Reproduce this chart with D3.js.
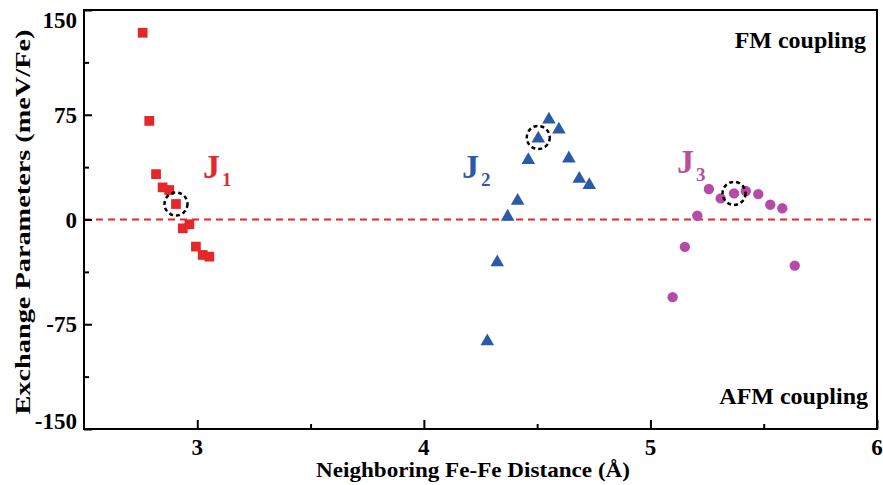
<!DOCTYPE html>
<html lang="en">
<head>
    <meta charset="UTF-8">
    <title>Exchange Parameters</title>
    <script src="https://cdn.jsdelivr.net/npm/d3@7"></script>
    <style>
        body { margin: 0; background: #fff; }
        svg text { font-family: "Liberation Serif", "Times New Roman", serif; font-weight: bold; }
    </style>
</head>
<body>
    <div id="chart"></div>
    <script>
        // J1 (squares), J2 (triangles), J3 (circles): distance in Å, exchange in meV/Fe
        const j1X = [2.759, 2.788, 2.818, 2.847, 2.876, 2.906, 2.936, 2.965, 2.994, 3.024, 3.053];
        const j1Y = [133.7, 70.6, 32.5, 23.0, 21.1, 11.1, -6.3, -3.4, -19.4, -25.4, -26.6];
        const j2X = [4.280, 4.324, 4.370, 4.414, 4.461, 4.505, 4.552, 4.596, 4.640, 4.686, 4.730];
        const j2Y = [-87.3, -30.6, 2.0, 13.4, 42.5, 58.0, 71.6, 64.4, 43.7, 29.1, 24.6];
        const j3X = [5.098, 5.152, 5.207, 5.258, 5.310, 5.369, 5.421, 5.476, 5.529, 5.582, 5.637];
        const j3Y = [-55.6, -19.6, 2.7, 21.8, 15.1, 18.7, 20.4, 18.2, 10.6, 8.0, -33.0];
        // index of the circled point in each series
        const highlighted = [5, 5, 5];

        const xTicks = [3, 4, 5, 6];
        const xMinor = [3.5, 4.5, 5.5];
        const yTicks = [150, 75, 0, -75, -150];
        const yMinor = [112.5, 37.5, -37.5, -112.5];

        const width = 883, height = 485;
        const margin = {left: 84, right: 6, top: 10, bottom: 56};

        const svg = d3.select('#chart').append('svg')
            .attr('width', width).attr('height', height);

        const x = d3.scaleLinear().domain([2.5, 6]).range([margin.left, width - margin.right]);
        const y = d3.scaleLinear().domain([-150, 150]).range([height - margin.bottom, margin.top]);

        // zero line
        svg.append('line')
            .attr('x1', x(2.5)).attr('x2', x(6))
            .attr('y1', y(0)).attr('y2', y(0))
            .attr('stroke', '#e0282c').attr('stroke-width', 2)
            .attr('stroke-dasharray', '7,5');

        // axes with inward ticks
        const xAxis = svg.append('g').attr('transform', `translate(0,${y(-150)})`);
        xAxis.call(d3.axisTop(x).tickValues(xTicks).tickSize(9).tickFormat(''));
        xAxis.append('g').call(d3.axisTop(x).tickValues(xMinor).tickSize(5).tickFormat(''));
        xAxis.selectAll('.domain').remove();
        xAxis.selectAll('line').attr('stroke', '#000').attr('stroke-width', 2);

        svg.selectAll('.xlab').data(xTicks).enter().append('text')
            .attr('x', d => x(d)).attr('y', y(-150) + 26)
            .attr('text-anchor', 'middle').attr('font-size', 23)
            .text(d => d);

        const yAxis = svg.append('g').attr('transform', `translate(${x(2.5)},0)`);
        yAxis.call(d3.axisRight(y).tickValues(yTicks).tickSize(8).tickFormat(''));
        yAxis.append('g').call(d3.axisRight(y).tickValues(yMinor).tickSize(5).tickFormat(''));
        yAxis.selectAll('.domain').remove();
        yAxis.selectAll('line').attr('stroke', '#000').attr('stroke-width', 2);

        svg.selectAll('.ylab').data(yTicks).enter().append('text')
            .attr('x', x(2.5) - 7)
            .attr('y', d => y(d) + (d === 150 ? 10 : d === -150 ? -8 : 0))
            .attr('dy', '0.35em')
            .attr('text-anchor', 'end').attr('font-size', 23)
            .text(d => d);

        // frame
        svg.append('rect')
            .attr('x', x(2.5)).attr('y', y(150))
            .attr('width', x(6) - x(2.5)).attr('height', y(-150) - y(150))
            .attr('fill', 'none').attr('stroke', '#000').attr('stroke-width', 2);

        // markers
        const series = [
            {xs: j1X, ys: j1Y, shape: d3.symbolSquare, size: 95, color: '#e5262a'},
            {xs: j2X, ys: j2Y, shape: d3.symbolTriangle, size: 80, color: '#2b5ba8'},
            {xs: j3X, ys: j3Y, shape: d3.symbolCircle, size: 85, color: '#b64ba7'}
        ];
        series.forEach((s, si) => {
            const pts = s.xs.map((v, i) => [v, s.ys[i]]);
            svg.append('g').selectAll('path').data(pts).enter().append('path')
                .attr('transform', d => `translate(${x(d[0])},${y(d[1])})`)
                .attr('d', d3.symbol().type(s.shape).size(s.size))
                .attr('fill', s.color);
            const h = pts[highlighted[si]];
            svg.append('circle')
                .attr('cx', x(h[0])).attr('cy', y(h[1]) + (si === 1 ? -1 : 0)).attr('r', 11.5)
                .attr('fill', 'none').attr('stroke', '#000')
                .attr('stroke-width', 2.5).attr('stroke-dasharray', '4,3');
        });

        // series labels
        const labels = [
            {x: 203, y: 178, sub: '1', color: '#e5262a'},
            {x: 462, y: 178, sub: '2', color: '#2b5ba8'},
            {x: 677, y: 173, sub: '3', color: '#b8509f'}
        ];
        labels.forEach(l => {
            const t = svg.append('text').attr('x', l.x).attr('y', l.y)
                .attr('fill', l.color).attr('font-size', 34);
            t.append('tspan').text('J');
            t.append('tspan').attr('font-size', 19).attr('dy', 8).attr('dx', 2).text(l.sub);
        });

        svg.append('text').attr('x', 866).attr('y', 48)
            .attr('text-anchor', 'end').attr('font-size', 24).text('FM coupling');
        svg.append('text').attr('x', 868).attr('y', 404)
            .attr('text-anchor', 'end').attr('font-size', 24).text('AFM coupling');

        // axis titles
        svg.append('text')
            .attr('x', 473).attr('y', 477)
            .attr('text-anchor', 'middle').attr('font-size', 21)
            .attr('textLength', 314).attr('lengthAdjust', 'spacingAndGlyphs')
            .text('Neighboring Fe-Fe Distance (Å)');
        svg.append('text')
            .attr('transform', 'translate(30,222) rotate(-90)')
            .attr('text-anchor', 'middle').attr('font-size', 21)
            .attr('textLength', 385).attr('lengthAdjust', 'spacingAndGlyphs')
            .text('Exchange Parameters (meV/Fe)');
    </script>
</body>
</html>
